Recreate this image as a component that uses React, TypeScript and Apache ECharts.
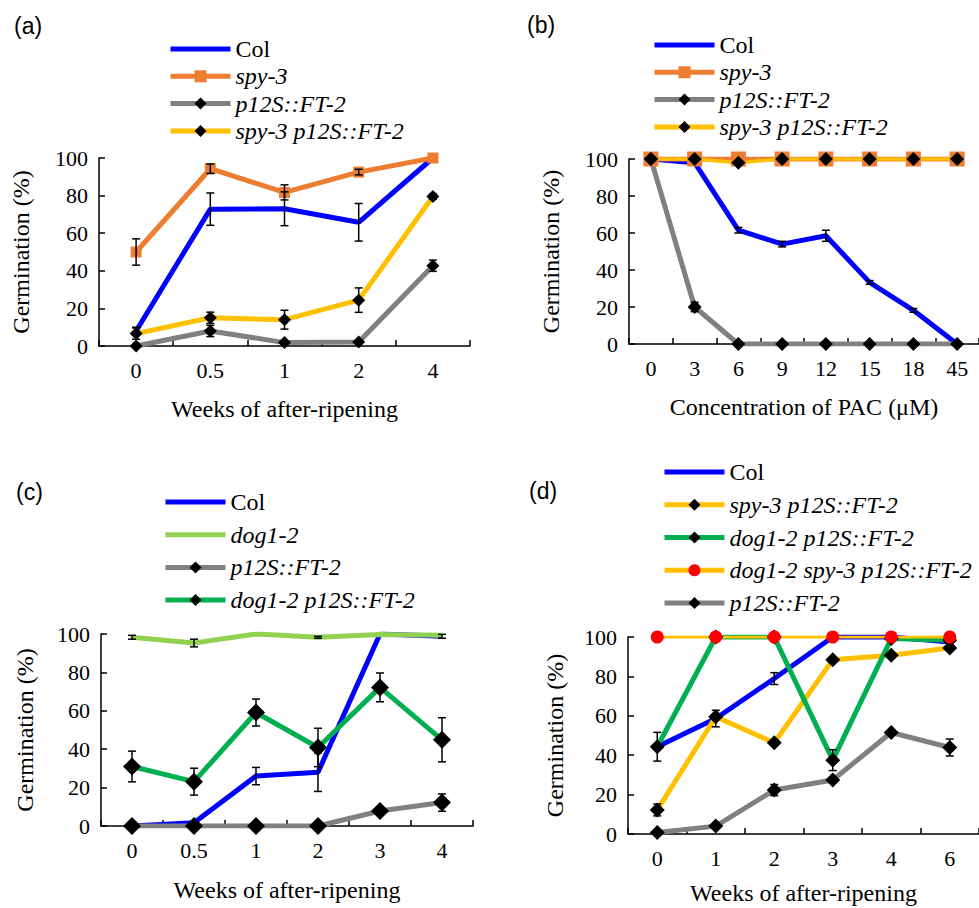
import React, { useEffect, useRef } from 'react';
import * as echarts from 'echarts';

const SERIF = 'Liberation Serif';
const SANS = 'Liberation Sans';

// ---------- data ----------
// (a)
const catsA = ['0', '0.5', '1', '2', '4'];
const aCol = [8, 72.8, 73, 65.8, 100];
const aColErr = [2, 8.6, 9, 10, 0];
const aSpy = [50, 94.3, 81.7, 92.5, 100];
const aSpyErr = [7, 2.5, 4, 1.5, 0];
const aFT = [0, 8, 1.8, 2.1, 42.7];
const aFTErr = [0, 3, 0, 0, 3];
const aSpyFT = [6.6, 15, 14, 24.4, 79.5];
const aSpyFTErr = [3, 3, 5, 6.5, 1.5];

// (b)
const catsB = ['0', '3', '6', '9', '12', '15', '18', '45'];
const bCol = [100, 98, 61.5, 54, 58.5, 33.3, 18.2, 0];
const bColErr = [0, 0, 1.5, 1.5, 3, 1, 1, 0];
const bSpy = [100, 100, 100, 100, 100, 100, 100, 100];
const bFT = [100, 20, 0, 0, 0, 0, 0, 0];
const bFTErr = [0, 2.5, 0, 0, 0, 0, 0, 0];
const bSpyFT = [100, 100, 98, 100, 100, 100, 100, 100];

// (c)
const catsC = ['0', '0.5', '1', '2', '3', '4'];
const cCol = [0, 1.7, 26, 28, 100, 98.8];
const cColErr = [0, 0, 4.5, 10, 0, 1];
const cDog = [98.3, 95.3, 100, 98.3, 99.7, 99.3];
const cDogErr = [1, 2, 0, 0.5, 0, 0];
const cFT = [0, 0, 0, 0, 7.8, 12.2];
const cFTErr = [0, 0, 0, 0, 2, 4.5];
const cDogFT = [31, 23.1, 59.1, 40.9, 72.2, 44.9];
const cDogFTErr = [8, 7, 7, 10, 7.5, 11.5];

// (d)
const catsD = ['0', '1', '2', '3', '4', '6'];
const dCol = [44.3, 58.6, 78.9, 100, 100, 97.5];
const dColErr = [7.3, 4.2, 3, 0, 0, 0];
const dSpyFT = [12.2, 59.5, 46.3, 88.5, 90.7, 94.4];
const dSpyFTErr = [3, 0, 0, 0, 0, 0];
const dDogFT = [44.3, 100, 100, 37.5, 99.2, 98.3];
const dDogFTErr = [0, 0, 0, 5.3, 0, 0];
const dTriple = [100, 100, 100, 100, 100, 100];
const dFT = [0.8, 4, 22.3, 27.4, 51.5, 43.9];
const dFTErr = [0, 0, 2.8, 0, 0, 4.3];

const COL = 'Col';
const SPY = 'spy-3';
const FT = 'p12S::FT-2';
const SPYFT = 'spy-3 p12S::FT-2';
const DOG = 'dog1-2';
const DOGFT = 'dog1-2 p12S::FT-2';
const TRIPLE = 'dog1-2 spy-3 p12S::FT-2';

const C = {
  blue: '#0000FF',
  orange: '#ED7D31',
  gray: '#808080',
  yellow: '#FFC000',
  lgreen: '#92D050',
  green: '#00B050',
  red: '#FF0000',
};

function line(name: string, data: number[], color: string, gi: number, symbol: string, size: number, width = 5, markColor = '#000') {
  return {
    type: 'line',
    name,
    data,
    xAxisIndex: gi,
    yAxisIndex: gi,
    symbol,
    symbolSize: size,
    showSymbol: symbol !== 'none',
    lineStyle: { color, width },
    itemStyle: { color: markColor },
    emphasis: { disabled: true },
  };
}

function errData(vals: number[][], errs: number[][]) {
  const out: number[][] = [];
  vals.forEach((v, si) => {
    v.forEach((y, i) => {
      const e = errs[si][i];
      if (e > 0) out.push([i, y - e, y + e]);
    });
  });
  return out;
}

function errSeries(gi: number, data: number[][]) {
  return {
    type: 'custom',
    name: 'err' + gi,
    xAxisIndex: gi,
    yAxisIndex: gi,
    data,
    encode: { x: 0, y: [1, 2] },
    z: 5,
    silent: true,
    renderItem: (params: any, api: any) => {
      const x = api.value(0);
      const lo = api.coord([x, api.value(1)]);
      const hi = api.coord([x, api.value(2)]);
      const w = 4;
      const st = { stroke: '#000', lineWidth: 1.5 };
      return {
        type: 'group',
        children: [
          { type: 'line', shape: { x1: hi[0], y1: hi[1], x2: lo[0], y2: lo[1] }, style: st },
          { type: 'line', shape: { x1: hi[0] - w, y1: hi[1], x2: hi[0] + w, y2: hi[1] }, style: st },
          { type: 'line', shape: { x1: lo[0] - w, y1: lo[1], x2: lo[0] + w, y2: lo[1] }, style: st },
        ],
      };
    },
  };
}

const grids = [
  { left: 99, top: 158, width: 371, height: 188 },
  { left: 629, top: 159, width: 350, height: 185 },
  { left: 101, top: 634, width: 372, height: 192 },
  { left: 628, top: 637, width: 360, height: 197 },
];
const xNames = ['Weeks of after-ripening', 'Concentration of PAC (μM)', 'Weeks of after-ripening', 'Weeks of after-ripening'];
const xCats = [catsA, catsB, catsC, catsD];
const xGaps = [51, 51, 52, 47];
const yGaps = [66, 66, 64, 61];

function legend(left: number, top: number, gap: number, names: string[]) {
  return {
    orient: 'vertical',
    left,
    top,
    padding: 0,
    itemWidth: 60,
    itemHeight: 15,
    itemGap: gap,
    selectedMode: false,
    lineStyle: { width: 5 },
    data: names.map((n) =>
      n === COL || n === DOG
        ? { name: n, itemStyle: { color: 'rgba(0,0,0,0)', borderColor: 'rgba(0,0,0,0)', opacity: 0 } }
        : { name: n }
    ),
    formatter: (n: string) => (n === COL ? `{n|${n}}` : `{i|${n}}`),
    textStyle: {
      color: '#000',
      rich: {
        n: { fontFamily: SERIF, fontSize: 24, lineHeight: 24, color: '#000' },
        i: { fontFamily: SERIF, fontSize: 24, lineHeight: 24, fontStyle: 'italic', color: '#000' },
      },
    },
  };
}

function buildOption() {
  const axisLine = { show: true, lineStyle: { color: '#000', width: 1.5 } };
  const axisTick = { show: true, inside: true, length: 6, lineStyle: { color: '#000', width: 1.5 } };
  const label = { color: '#000', fontFamily: SERIF, fontSize: 22 };
  const nameStyle = { color: '#000', fontFamily: SERIF, fontSize: 24 };

  const series: any[] = [
    // (a)
    line(COL, aCol, C.blue, 0, 'none', 0),
    line(SPY, aSpy, C.orange, 0, 'rect', 11, 5, C.orange),
    line(FT, aFT, C.gray, 0, 'diamond', 13),
    line(SPYFT, aSpyFT, C.yellow, 0, 'diamond', 13),
    errSeries(0, errData([aCol, aSpy, aFT, aSpyFT], [aColErr, aSpyErr, aFTErr, aSpyFTErr])),
    // (b)
    line(COL, bCol, C.blue, 1, 'none', 0),
    line(SPY, bSpy, C.orange, 1, 'rect', 15, 5, C.orange),
    line(FT, bFT, C.gray, 1, 'diamond', 14),
    line(SPYFT, bSpyFT, C.yellow, 1, 'diamond', 14, 3.5),
    errSeries(1, errData([bCol, bFT], [bColErr, bFTErr])),
    // (c)
    line(COL, cCol, C.blue, 2, 'none', 0),
    line(DOG, cDog, C.lgreen, 2, 'none', 0),
    line(FT, cFT, C.gray, 2, 'diamond', 18),
    line(DOGFT, cDogFT, C.green, 2, 'diamond', 18),
    errSeries(2, errData([cCol, cDog, cFT, cDogFT], [cColErr, cDogErr, cFTErr, cDogFTErr])),
    // (d)
    line(COL, dCol, C.blue, 3, 'none', 0),
    line(SPYFT, dSpyFT, C.yellow, 3, 'diamond', 15),
    line(DOGFT, dDogFT, C.green, 3, 'diamond', 15),
    line(TRIPLE, dTriple, C.yellow, 3, 'circle', 13, 3, C.red),
    line(FT, dFT, C.gray, 3, 'diamond', 15),
    errSeries(3, errData([dCol, dSpyFT, dDogFT, dFT], [dColErr, dSpyFTErr, dDogFTErr, dFTErr])),
  ];

  return {
    animation: false,
    backgroundColor: '#fff',
    grid: grids.map((g) => ({ ...g, containLabel: false })),
    xAxis: grids.map((_, i) => ({
      type: 'category',
      gridIndex: i,
      data: xCats[i],
      boundaryGap: true,
      axisLine,
      axisTick,
      axisLabel: { ...label, margin: 13 },
      splitLine: { show: false },
      name: xNames[i],
      nameLocation: 'middle',
      nameGap: xGaps[i],
      nameTextStyle: nameStyle,
    })),
    yAxis: grids.map((_, i) => ({
      type: 'value',
      gridIndex: i,
      min: 0,
      max: 100,
      interval: 20,
      axisLine,
      axisTick,
      axisLabel: { ...label, margin: 11 },
      splitLine: { show: false },
      name: 'Germination (%)',
      nameLocation: 'middle',
      nameGap: yGaps[i],
      nameTextStyle: nameStyle,
    })),
    legend: [
      legend(168, 37, 3.3, [COL, SPY, FT, SPYFT]),
      legend(652, 33, 3.3, [COL, SPY, FT, SPYFT]),
      legend(163, 490, 8.7, [COL, DOG, FT, DOGFT]),
      legend(662, 460, 8.75, [COL, SPYFT, DOGFT, TRIPLE, FT]),
    ],
    graphic: [
      { type: 'text', left: 14, top: 14, style: { text: '(a)', font: `23px ${SANS}`, fill: '#000' } },
      { type: 'text', left: 527, top: 13, style: { text: '(b)', font: `23px ${SANS}`, fill: '#000' } },
      { type: 'text', left: 16, top: 480, style: { text: '(c)', font: `23px ${SANS}`, fill: '#000' } },
      { type: 'text', left: 529, top: 479, style: { text: '(d)', font: `23px ${SANS}`, fill: '#000' } },
    ],
    series,
  };
}

export default function App() {
  const ref = useRef<HTMLDivElement>(null);
  useEffect(() => {
    document.body.style.margin = '0';
    if (!ref.current) return;
    const chart = echarts.init(ref.current, undefined, { renderer: 'svg' });
    chart.setOption(buildOption() as any);
    return () => chart.dispose();
  }, []);
  return <div ref={ref} style={{ width: 979, height: 908 }} />;
}
